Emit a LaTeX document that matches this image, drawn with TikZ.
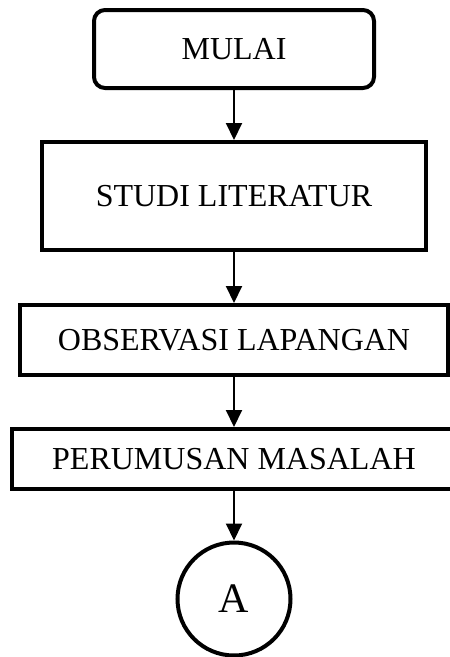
\documentclass[tikz,border=0pt]{standalone}
\usepackage{fontspec}
\setmainfont{Liberation Serif}
\usetikzlibrary{arrows.meta}
\begin{document}
\begin{tikzpicture}[x=1pt,y=-1pt,
  box/.style={draw,line width=4pt,fill=white,inner sep=0pt,
    font=\fontsize{32}{38}\selectfont},
  conn/.style={line width=2pt,-{Triangle[width=16pt,length=17pt]}}]
\useasboundingbox (0,0) rectangle (450,657);
\clip (0,0) rectangle (450,657);
\node[box,rounded corners=11pt,minimum width=280pt,minimum height=78pt] (mulai) at (234,49) {MULAI};
\node[box,minimum width=384pt,minimum height=108pt] (studi) at (234,196) {STUDI LITERATUR};
\node[box,minimum width=428pt,minimum height=70pt] (obs) at (234,340) {OBSERVASI LAPANGAN};
\node[box,minimum width=444pt,minimum height=60pt] (perum) at (234,459) {PERUMUSAN MASALAH};
\node[box,circle,minimum size=113pt,font=\fontsize{42}{48}\selectfont] (a) at (234,599) {A};
\draw[conn] (mulai.south) -- (studi.north);
\draw[conn] (studi.south) -- (obs.north);
\draw[conn] (obs.south) -- (perum.north);
\draw[conn] (perum.south) -- (a.north);
\end{tikzpicture}
\end{document}
